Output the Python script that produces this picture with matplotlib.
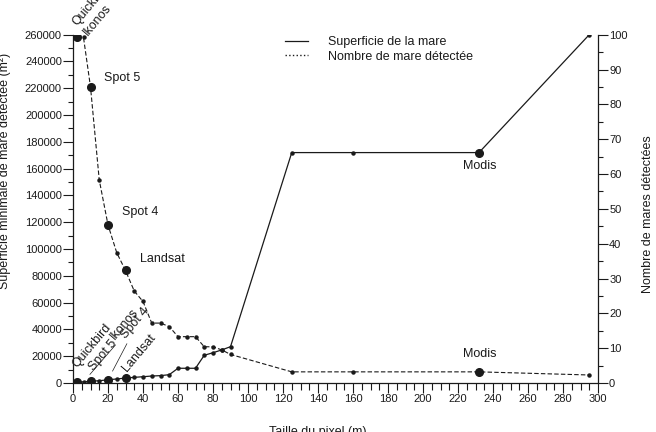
import matplotlib
matplotlib.use("Agg")
import matplotlib.pyplot as plt
from matplotlib.ticker import MultipleLocator

# pixel size (m) of each point
pixel_size = [2.5, 6, 10, 15, 20, 25, 30, 35, 40, 45, 50, 55, 60, 65, 70,
              75, 80, 85, 90, 125, 160, 232, 295]
# minimal detected pond surface (m2) - left axis
surface_min = [600, 900, 1300, 1700, 2400, 3000, 3700, 4200, 4700, 5200, 5500,
               6200, 11000, 11000, 11000, 20700, 22600, 24700, 27100,
               172000, 172000, 172000, 260000]
# number of detected ponds - right axis
nb_mares = [99.2, 99.2, 85, 58.3, 45.4, 37.4, 32.3, 26.4, 23.4, 17.2, 17.2,
            16.2, 13.3, 13.3, 13.3, 10.4, 10.4, 9.5, 8.2, 3.2, 3.2, 3.2, 2.3]
# sensors shown with a big dot (index in the lists above)
capteurs = {0: "Quickbird", 2: "Spot 5", 4: "Spot 4", 6: "Landsat", 21: "Modis"}
ikonos_idx = 1

plt.rcParams['font.family'] = ['Liberation Sans', 'DejaVu Sans']
plt.rcParams['font.size'] = 9
ink = '#1a1a1a'

fig = plt.figure(figsize=(6.56, 4.32), dpi=100)
ax = fig.add_axes([73 / 656, 1 - 383 / 432, 525 / 656, 348.3 / 432])
ax2 = ax.twinx()

# surface (solid)
ax.plot(pixel_size, surface_min, '-', color=ink, lw=0.9, label='Superficie de la mare')
ax.plot(pixel_size, surface_min, 'o', color=ink, ms=2.2, ls='none')
big = list(capteurs.keys())
ax.plot([pixel_size[i] for i in big], [surface_min[i] for i in big], 'o',
        color=ink, ms=5.5, ls='none')

# count (dashed)
ln2, = ax2.plot(pixel_size, nb_mares, color=ink, lw=0.8, dashes=(4, 2),
                label='Nombre de mare détectée')
ax2.plot(pixel_size, nb_mares, 'o', color=ink, ms=2.2, ls='none')
ax2.plot([pixel_size[i] for i in big], [nb_mares[i] for i in big], 'o',
         color=ink, ms=5.5, ls='none')

ax.set_xlim(0, 300)
ax.set_ylim(0, 260000)
ax2.set_ylim(0, 100)

ax.xaxis.set_major_locator(MultipleLocator(20))
ax.xaxis.set_minor_locator(MultipleLocator(5))
ax.yaxis.set_major_locator(MultipleLocator(20000))
ax.yaxis.set_minor_locator(MultipleLocator(10000))
ax2.yaxis.set_major_locator(MultipleLocator(10))
ax2.yaxis.set_minor_locator(MultipleLocator(5))

for a in (ax, ax2):
    a.tick_params(which='major', length=7, width=0.8, pad=1, labelsize=8,
                  colors=ink)
    a.tick_params(which='minor', length=3.5, width=0.8, colors=ink)
    a.spines['top'].set_visible(False)
    for s in a.spines.values():
        s.set_color(ink)
        s.set_linewidth(0.9)
ax.tick_params(axis='x', which='minor', length=5)
ax.spines['right'].set_visible(False)
ax2.spines['left'].set_visible(False)
ax2.spines['bottom'].set_visible(False)

ax.set_xlabel('Taille du pixel (m)', color=ink)
ax.xaxis.set_label_coords(0.467, -0.123)
ax.set_ylabel('Superficie minimale de mare détectée (m²)', color=ink)
ax.yaxis.set_label_coords(-0.118, 0.609)
ax2.set_ylabel('Nombre de mares détectées', color=ink)
ax2.yaxis.set_label_coords(1.084, 0.485)

# labels on the count curve
ax2.annotate('Quickbird', (pixel_size[0], nb_mares[0]), xytext=(-0.5, 8.5),
             textcoords='offset points', rotation=50, rotation_mode='anchor',
             ha='left', va='baseline', color=ink, annotation_clip=False)
ax2.annotate('Ikonos', (pixel_size[ikonos_idx], nb_mares[ikonos_idx]), xytext=(3.5, 1),
             textcoords='offset points', rotation=50, rotation_mode='anchor',
             ha='left', va='baseline', color=ink)
for i, (dx, dy) in zip([2, 4, 6], [(10, 6.5), (9.9, 9.6), (10.4, 8.4)]):
    ax2.annotate(capteurs[i], (pixel_size[i], nb_mares[i]), xytext=(dx, dy),
                 textcoords='offset points', ha='left', va='center', color=ink)
ax2.annotate('Modis', (pixel_size[21], nb_mares[21]), xytext=(0.5, 12.9),
             textcoords='offset points', ha='center', va='center', color=ink)

# labels on the surface curve
ax.annotate('Modis', (pixel_size[21], surface_min[21]), xytext=(0.5, -9.7),
            textcoords='offset points', ha='center', va='center', color=ink)
rot = dict(textcoords='offset points', rotation=50, rotation_mode='anchor',
           ha='left', va='baseline', color=ink)
lead = dict(arrowstyle='-', lw=0.5, color=ink, shrinkA=0, shrinkB=7,
            relpos=(0.3, 0))
ax.annotate('Quickbird', (pixel_size[0], surface_min[0]), xytext=(-0.5, 10), **rot)
ax.annotate('Ikonos', (pixel_size[ikonos_idx], surface_min[ikonos_idx]),
            xytext=(22.7, 30), arrowprops=lead, **rot)
ax.annotate('Spot 5', (pixel_size[2], surface_min[2]), xytext=(2.5, 7), **rot)
ax.annotate('Spot 4', (pixel_size[4], surface_min[4]), xytext=(12.6, 29.4),
            arrowprops=lead, **rot)
ax.annotate('Landsat', (pixel_size[6], surface_min[6]), xytext=(0.9, 4.5), **rot)

# legend (dotted sample for the count series, as in the original)
h1 = ax.get_lines()[0]
leg = ax.legend([h1, ln2], [h1.get_label(), ln2.get_label()], loc='upper left',
                bbox_to_anchor=(285 / 656, 1 - 36 / 432), bbox_transform=fig.transFigure,
                frameon=False, borderpad=0, borderaxespad=0, handlelength=1.85,
                handletextpad=1.6, labelspacing=0.2, fontsize=9)
for t in leg.get_texts():
    t.set_color(ink)
leg.get_lines()[1].set_linestyle(':')
leg.get_lines()[1].set_linewidth(1.0)

fig.savefig('out.png', dpi=100)
